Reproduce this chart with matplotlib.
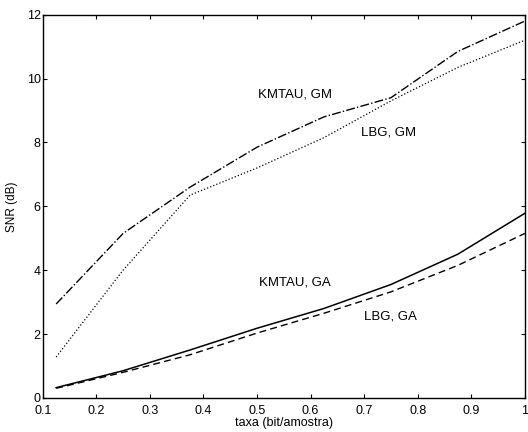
import matplotlib
matplotlib.use("Agg")
import matplotlib.pyplot as plt

# bit rate (bit/amostra)
rate = [0.125, 0.25, 0.375, 0.5, 0.625, 0.75, 0.875, 1.0]

# SNR (dB)
kmtau_gm = [2.94, 5.15, 6.6, 7.85, 8.8, 9.4, 10.85, 11.8]
lbg_gm = [1.28, 4.0, 6.35, 7.2, 8.15, 9.3, 10.35, 11.2]
kmtau_ga = [0.32, 0.85, 1.5, 2.18, 2.8, 3.55, 4.5, 5.78]
lbg_ga = [0.3, 0.8, 1.35, 2.03, 2.65, 3.32, 4.15, 5.15]

plt.rcParams["font.family"] = ["Liberation Sans", "DejaVu Sans"]

fig = plt.figure(figsize=(5.28, 4.32), dpi=100)
ax = fig.add_axes([0.081, 0.079, 0.913, 0.887])

ax.plot(rate, kmtau_gm, color="black", lw=1.0, ls="-.")
ax.plot(rate, lbg_gm, color="black", lw=0.9, ls=":")
ax.plot(rate, kmtau_ga, color="black", lw=1.1, ls="-")
ax.plot(rate, lbg_ga, color="black", lw=1.0, ls=(0, (5, 3)))

ax.text(0.57, 9.5, "KMTAU, GM", fontsize=9.5, ha="center", va="center")
ax.text(0.745, 8.3, "LBG, GM", fontsize=9.5, ha="center", va="center")
ax.text(0.57, 3.6, "KMTAU, GA", fontsize=9.5, ha="center", va="center")
ax.text(0.75, 2.55, "LBG, GA", fontsize=9.5, ha="center", va="center")

ax.set_xlim(0.1, 1.0)
ax.set_ylim(0, 12)
ax.set_xticks([0.1, 0.2, 0.3, 0.4, 0.5, 0.6, 0.7, 0.8, 0.9, 1.0])
ax.set_xticklabels(["0.1", "0.2", "0.3", "0.4", "0.5", "0.6", "0.7", "0.8", "0.9", "1"])
ax.set_yticks([0, 2, 4, 6, 8, 10, 12])
ax.tick_params(direction="in", top=True, right=True, length=3, width=0.8,
               labelsize=9)
ax.tick_params(axis="x", pad=5)
ax.tick_params(axis="y", pad=1.5)
for s in ax.spines.values():
    s.set_linewidth(1.0)

ax.set_xlabel("taxa (bit/amostra)", fontsize=9, labelpad=0)
ax.set_ylabel("SNR (dB)", fontsize=8.5, labelpad=6)

fig.savefig("out.png", dpi=100)
